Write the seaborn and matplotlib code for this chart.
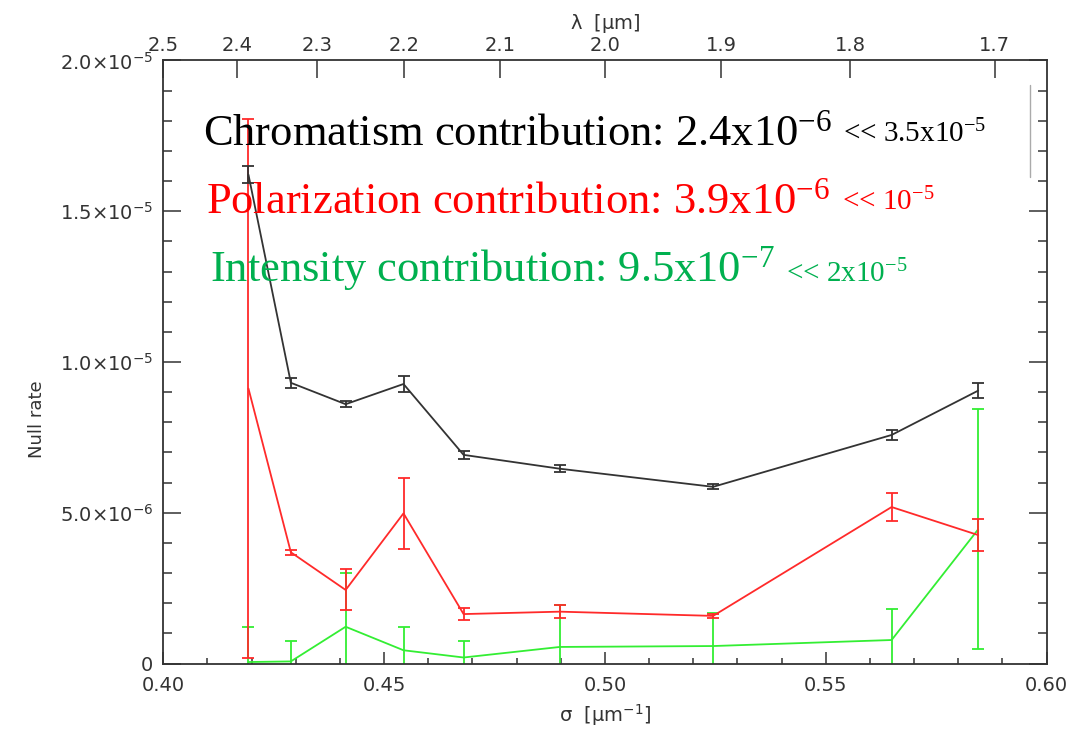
import matplotlib
matplotlib.use("Agg")
import matplotlib.pyplot as plt
import numpy as np
import seaborn as sns
from matplotlib.ticker import MultipleLocator, NullLocator

# wavenumber sigma [um^-1]
sigma = [0.4193, 0.4289, 0.4413, 0.4544, 0.4680, 0.4898, 0.5245, 0.5649, 0.5845]

# null rate contributions (x 1e-5) with error bars
chrom = [1.621, 0.931, 0.860, 0.927, 0.692, 0.646, 0.586, 0.758, 0.905]
chrom_err = [0.029, 0.017, 0.009, 0.025, 0.013, 0.011, 0.008, 0.017, 0.024]
polar = [0.912, 0.369, 0.244, 0.498, 0.164, 0.172, 0.158, 0.519, 0.426]
polar_err = [0.895, 0.008, 0.068, 0.117, 0.020, 0.021, 0.007, 0.045, 0.054]
inten = [0.005, 0.007, 0.122, 0.044, 0.020, 0.055, 0.058, 0.078, 0.445]
inten_err = [0.117, 0.069, 0.177, 0.078, 0.056, 0.139, 0.110, 0.104, 0.398]

y_ticks = [0, 5e-6, 1e-5, 1.5e-5, 2e-5]
y_ticklabels = ["0", "5.0×10$^{-6}$", "1.0×10$^{-5}$", "1.5×10$^{-5}$", "2.0×10$^{-5}$"]
lam_ticks = [2.5, 2.4, 2.3, 2.2, 2.1, 2.0, 1.9, 1.8, 1.7]

sns.set_style("ticks")
plt.rcParams["font.family"] = ["DejaVu Sans"]
plt.rcParams["mathtext.default"] = "regular"

AX_COL = "#333333"
series = [
    ("Intensity", inten, inten_err, "#33ee33"),
    ("Polarization", polar, polar_err, "#ff2a2a"),
    ("Chromatism", chrom, chrom_err, "#333333"),
]

fig = plt.figure(figsize=(10.88, 7.31), dpi=100)
ax = fig.add_axes([0.150, 0.0923, 0.812, 0.825])

x = np.array(sigma)
for name, vals, errs, col in series:
    y = np.array(vals) * 1e-5
    e = np.array(errs) * 1e-5
    sns.lineplot(x=x, y=y, ax=ax, color=col, lw=1.3, sort=False)
    ax.errorbar(x, y, yerr=e, fmt="none", ecolor=col, elinewidth=1.3,
                capsize=4.5, capthick=1.3, clip_on=True)

ax.set_xlim(0.40, 0.60)
ax.set_ylim(0, 2e-5)
ax.xaxis.set_major_locator(MultipleLocator(0.05))
ax.xaxis.set_minor_locator(MultipleLocator(0.01))
ax.xaxis.set_major_formatter(plt.FuncFormatter(lambda v, p: f"{v:.2f}"))
ax.set_yticks(y_ticks)
ax.set_yticklabels(y_ticklabels)
ax.yaxis.set_minor_locator(MultipleLocator(1e-6))

ax.tick_params(axis="x", which="both", direction="in", top=False, colors=AX_COL,
               labelsize=14, pad=9)
ax.tick_params(axis="x", which="major", length=9, width=1.1)
ax.tick_params(axis="x", which="minor", length=4.5, width=1.1)
ax.tick_params(axis="y", which="both", direction="in", left=True, right=True,
               colors=AX_COL, labelsize=14, pad=7)
ax.tick_params(axis="y", which="major", length=13, width=1.1)
ax.tick_params(axis="y", which="minor", length=6.5, width=1.1)
for sp in ax.spines.values():
    sp.set_color(AX_COL)
    sp.set_linewidth(1.3)

ax.set_xlabel(r"$\sigma$  [$\mu$m$^{-1}$]", fontsize=14, color=AX_COL, labelpad=5)
ax.set_ylabel("Null rate", fontsize=13, color=AX_COL)
ax.yaxis.set_label_coords(-0.133, 0.405)

secax = ax.secondary_xaxis("top", functions=(lambda s: 1 / s, lambda l: 1 / l))
secax.set_xticks(lam_ticks)
secax.set_xticklabels([f"{v:.1f}" for v in lam_ticks])
secax.xaxis.set_minor_locator(NullLocator())
secax.tick_params(direction="in", length=13, width=1.1, colors=AX_COL,
                  labelsize=14, pad=4)
secax.spines["top"].set_visible(False)
secax.set_xlabel(r"$\lambda$  [$\mu$m]", fontsize=14, color=AX_COL, labelpad=5)

# stray slide line near the right border
ax.axvline(0.5963, ymin=0.807, ymax=0.959, color="#aaaaaa", lw=1)

# annotations
notes = [
    (0.045, 0.860, "Chromatism contribution: 2.4x10$^{-6}$", "<< 3.5x10$^{-5}$", "black"),
    (0.049, 0.747, "Polarization contribution: 3.9x10$^{-6}$", "<< 10$^{-5}$", "#ff0000"),
    (0.053, 0.633, "Intensity contribution: 9.5x10$^{-7}$", "<< 2x10$^{-5}$", "#00b04f"),
]
for tx, ty, main, small, col in notes:
    t1 = ax.text(tx, ty, main, transform=ax.transAxes, fontsize=32,
                 family=["Liberation Serif"], color=col, va="baseline")
    ax.annotate(small, xy=(1, 0), xycoords=t1, xytext=(8, 4),
                textcoords="offset points", fontsize=21,
                family=["Liberation Serif"], color=col, va="bottom")

fig.savefig("out.png", dpi=100)
